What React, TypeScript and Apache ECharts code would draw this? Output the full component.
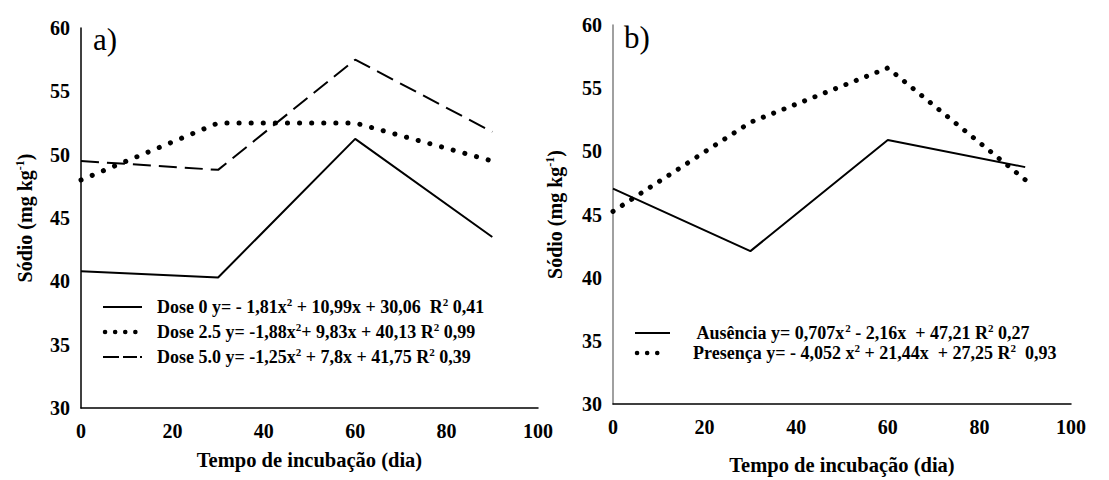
import React, { useEffect, useRef } from "react";
import * as echarts from "echarts";

const days = [0, 30, 60, 90];
const dose0 = [40.8, 40.3, 51.25, 43.5];
const dose25 = [48.0, 52.5, 52.5, 49.5];
const dose50 = [49.5, 48.8, 57.5, 51.8];
const ausencia = [47.05, 42.1, 50.9, 48.75];
const presenca = [45.25, 52.3, 56.6, 47.75];

const seriesNamesA = ["Dose 0", "Dose 2.5", "Dose 5.0"];
const seriesNamesB = ["Ausência", "Presença"];

const legendTextA = [
  "{b|Dose 0 y= - 1,81x}{s|2}{b| + 10,99x + 30,06  R}{s|2}{b| 0,41}",
  "{b|Dose 2.5 y= -1,88x}{s|2}{b|+ 9,83x + 40,13 R}{s|2}{b| 0,99}",
  "{b|Dose 5.0 y= -1,25x}{s|2}{b| + 7,8x + 41,75 R}{s|2}{b| 0,39}",
];
const legendTextB = [
  "{b| Ausência y= 0,707x}{s|2}{b| - 2,16x  + 47,21 R}{s|2}{b| 0,27}",
  "{b|Presença y= - 4,052 x}{s|2}{b| + 21,44x  + 27,25 R}{s|2}{b|  0,93}",
];

const xName = "Tempo de incubação (dia)";
const yName = "{b|Sódio (mg kg}{s|-1}{b|)}";

const FONT = "Liberation Serif";

const pairs = (ys: number[]) => days.map((d, i) => [d, ys[i]]);

const makeRich = (size: number, lh: number) => ({
  b: { fontFamily: FONT, fontWeight: "bold", fontSize: size, lineHeight: lh, color: "#000" },
  s: { fontFamily: FONT, fontWeight: "bold", fontSize: Math.round(size * 0.62), lineHeight: 12, verticalAlign: "top", color: "#000" },
});

const labelStyle = { fontFamily: FONT, fontWeight: "bold", fontSize: 20, color: "#000" };
const nameStyle = { fontFamily: FONT, fontWeight: "bold", fontSize: 20.5, color: "#000" };

const solid = { color: "#000", width: 2 };
const dotted = (gap: number) => ({ color: "#000", width: 5, type: [0.1, gap], cap: "round" });
const dashed = { color: "#000", width: 2, type: [18, 8] };

function makeX(idx: number, gap: number) {
  return {
    type: "value",
    gridIndex: idx,
    min: 0,
    max: 100,
    interval: 20,
    axisLine: { show: true, lineStyle: { color: "#000", width: 1.5 } },
    axisTick: { show: false },
    splitLine: { show: false },
    axisLabel: { ...labelStyle, margin: 13 },
    name: xName,
    nameLocation: "middle",
    nameGap: gap,
    nameTextStyle: { ...nameStyle },
  };
}

function makeY(idx: number, color: string, gap: number) {
  return {
    type: "value",
    gridIndex: idx,
    min: 30,
    max: 60,
    interval: 5,
    axisLine: { show: true, lineStyle: { color, width: 1.5 } },
    axisTick: { show: false },
    splitLine: { show: false },
    axisLabel: { ...labelStyle, margin: 11 },
    name: yName,
    nameLocation: "middle",
    nameRotate: 90,
    nameGap: gap,
    nameTextStyle: { rich: makeRich(20, 22) },
  };
}

function legendLine(x1: number, x2: number, y: number, style: any) {
  return { type: "line", silent: true, shape: { x1, y1: y, x2, y2: y }, style: { stroke: "#000", ...style } };
}

function legendText(x: number, y: number, text: string) {
  return {
    type: "text",
    silent: true,
    x,
    y,
    style: { text, rich: makeRich(18, 22), verticalAlign: "middle", align: "left" },
  };
}

export default function App() {
  const ref = useRef<HTMLDivElement>(null);
  useEffect(() => {
    const chart = echarts.init(ref.current!, null, { renderer: "svg" });
    const option: any = {
      animation: false,
      backgroundColor: "#fff",
      grid: [
        { left: 81, top: 28, width: 457, height: 380 },
        { left: 613, top: 25, width: 458, height: 379 },
      ],
      xAxis: [makeX(0, 41), makeX(1, 50)],
      yAxis: [makeY(0, "#000", 45), makeY(1, "#808080", 47)],
      graphic: [
        { type: "text", left: 93, top: 24, style: { text: "a)", font: `31px ${FONT}`, fill: "#000" } },
        { type: "text", left: 624, top: 22, style: { text: "b)", font: `31px ${FONT}`, fill: "#000" } },
        legendLine(103, 142, 307, { lineWidth: 2 }),
        legendLine(105, 136, 332, { lineWidth: 4.5, lineDash: [0.1, 10], lineCap: "round" }),
        legendLine(103, 142, 357, { lineWidth: 2, lineDash: [16, 4, 14, 3, 2, 60] }),
        legendText(157, 307, legendTextA[0]),
        legendText(157, 332, legendTextA[1]),
        legendText(157, 357, legendTextA[2]),
        legendLine(635, 670, 333, { lineWidth: 2 }),
        legendLine(637, 667, 353, { lineWidth: 4.5, lineDash: [0.1, 10], lineCap: "round" }),
        legendText(693, 333, legendTextB[0]),
        legendText(693, 353, legendTextB[1]),
      ],
      series: [
        { type: "line", name: seriesNamesA[0], xAxisIndex: 0, yAxisIndex: 0, data: pairs(dose0), symbol: "none", lineStyle: solid },
        { type: "line", name: seriesNamesA[1], xAxisIndex: 0, yAxisIndex: 0, data: pairs(dose25), symbol: "none", lineStyle: dotted(12) },
        { type: "line", name: seriesNamesA[2], xAxisIndex: 0, yAxisIndex: 0, data: pairs(dose50), symbol: "none", lineStyle: dashed },
        { type: "line", name: seriesNamesB[0], xAxisIndex: 1, yAxisIndex: 1, data: pairs(ausencia), symbol: "none", lineStyle: solid },
        { type: "line", name: seriesNamesB[1], xAxisIndex: 1, yAxisIndex: 1, data: pairs(presenca), symbol: "none", lineStyle: dotted(11) },
      ],
    };
    chart.setOption(option);
    return () => chart.dispose();
  }, []);
  return (
    <div
      ref={ref}
      style={{ position: "absolute", left: 0, top: 0, width: 1109, height: 480, background: "#fff" }}
    />
  );
}
